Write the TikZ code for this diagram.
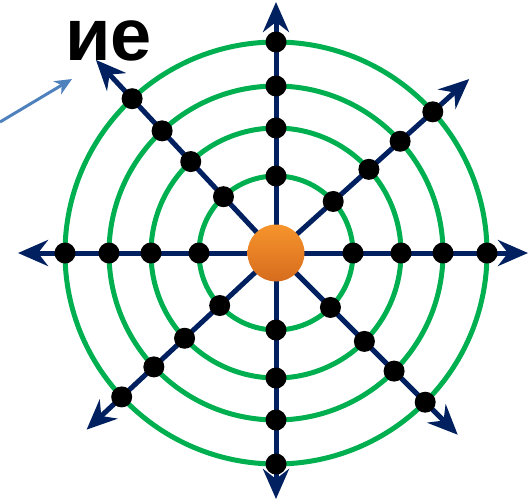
\documentclass[tikz,border=0pt]{standalone}
\usepackage{fontspec}
\setmainfont{Liberation Sans}
\usetikzlibrary{arrows.meta, calc}

\definecolor{ringgreen}{HTML}{00B050}
\definecolor{axisnavy}{HTML}{002060}
\definecolor{pointerblue}{HTML}{4F81BD}
\definecolor{ballorange}{HTML}{F7942C}
\definecolor{balldark}{HTML}{D66C1E}

\begin{document}
\begin{tikzpicture}[
    x=1pt, y=1pt,
    ring/.style={draw=ringgreen, line width=5pt},
    axis/.style={draw=axisnavy, line width=5pt, -{Stealth[length=30pt, width=26pt, inset=10pt]}},
    dot/.style={circle, fill=black, minimum size=21pt, inner sep=0pt},
    ball/.style={circle, minimum size=57pt, inner sep=0pt, top color=ballorange, bottom color=balldark},
    pointer/.style={draw=pointerblue, line width=3pt, -{Stealth[length=17pt, width=15pt, inset=5pt]}}
]
    \useasboundingbox (0,0) rectangle (529,-501);
    \coordinate (c) at (276,-253);

    % Rings
    \foreach \r in {77,125,167,211}
        \draw[ring] (c) circle[radius=\r pt];

    % Axes
    \foreach \a/\l in {0/252, 42/260, 90/251, 133/264, 180/258, 223/259, 270/246, 315/257} {
        \coordinate (tip-\a) at ($(c)+(\a:\l)$);
        \draw[axis] (c) -- (tip-\a);
    }

    % Dots on the rings
    \foreach \a in {0,42,90,133,180,223,270,315}
        \foreach \r in {77,125,167,211}
            \node[dot] (d-\a-\r) at ($(c)+(\a:\r)$) {};

    % Centre
    \node[ball] (hub) at (c) {};

    % Label and pointer
    \node[anchor=base west, inner sep=0pt, font=\bfseries\fontsize{74}{74}\selectfont] (lbl) at (65,-60) {ие};
    \coordinate (ptr-start) at (0,-122);
    \coordinate (ptr-end) at (72,-79);
    \draw[pointer] (ptr-start) -- (ptr-end);
\end{tikzpicture}
\end{document}
